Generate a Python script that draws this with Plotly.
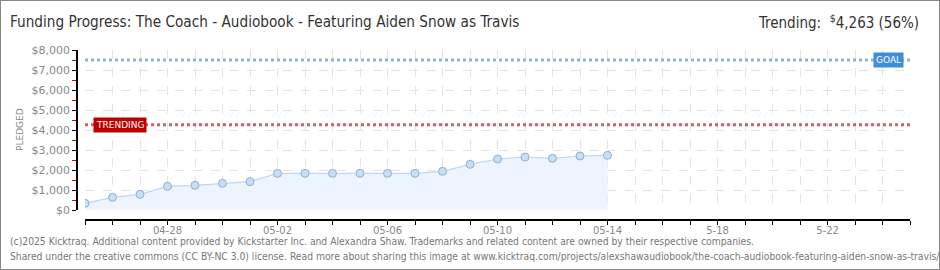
import plotly.graph_objects as go

dates = ["2025-04-25","2025-04-26","2025-04-27","2025-04-28","2025-04-29","2025-04-30",
         "2025-05-01","2025-05-02","2025-05-03","2025-05-04","2025-05-05","2025-05-06",
         "2025-05-07","2025-05-08","2025-05-09","2025-05-10","2025-05-11","2025-05-12",
         "2025-05-13","2025-05-14"]
pledged = [333, 633, 783, 1183, 1233, 1333, 1417, 1833, 1833, 1833, 1833, 1833,
           1833, 1933, 2283, 2550, 2650, 2583, 2700, 2733]
goal = 7500
trending = 4263
tick_vals = ["2025-04-28","2025-05-02","2025-05-06","2025-05-10","2025-05-14","2025-05-18","2025-05-22"]
tick_text = ["04-28","05-02","05-06","05-10","05-14","5-18","5-22"]
y_ticks = [0,1000,2000,3000,4000,5000,6000,7000,8000]
y_text = ["$0","$1,000","$2,000","$3,000","$4,000","$5,000","$6,000","$7,000","$8,000"]
x_range = ["2025-04-25","2025-05-25"]

W, H = 940, 270
FONT = "DejaVu Sans, sans-serif"
NARROW = "Liberation Sans Narrow, DejaVu Sans Condensed, sans-serif"

fig = go.Figure()
fig.add_trace(go.Scatter(
    x=dates, y=pledged, mode="lines+markers",
    line=dict(color="#bcd8f3", width=1.2),
    fill="tozeroy", fillcolor="#edf4fd",
    marker=dict(size=8, color="#c6def7", line=dict(color="#8fb0d2", width=1)),
    hoverinfo="skip", showlegend=False))
fig.add_trace(go.Scatter(
    x=x_range, y=[goal, goal], mode="lines",
    line=dict(color="#8ab4e0", width=3, dash="dot"), showlegend=False, hoverinfo="skip"))
fig.add_trace(go.Scatter(
    x=x_range, y=[trending, trending], mode="lines",
    line=dict(color="#d06060", width=3, dash="dot"), showlegend=False, hoverinfo="skip"))

fig.update_layout(
    width=W, height=H, margin=dict(l=0, r=0, t=0, b=0, autoexpand=False),
    paper_bgcolor="white", plot_bgcolor="white",
    font=dict(family=FONT, color="#888"),
    xaxis=dict(
        type="date", range=x_range, domain=[85/W, 910/W], automargin=False,
        anchor="free", position=(H-220)/H,
        tickvals=tick_vals, ticktext=tick_text,
        tickfont=dict(size=10, color="#888", family=FONT),
        ticks="outside", ticklen=4, tickcolor="black", ticklabelstandoff=-3,
        showline=True, linecolor="black", linewidth=1.5,
        showgrid=True, gridcolor="#e4e4e4", griddash="dash", gridwidth=1,
        zeroline=False,
        minor=dict(dtick=86400000, tick0="2025-04-25", ticks="outside", ticklen=4,
                   tickcolor="black", showgrid=True, gridcolor="#e4e4e4", griddash="dash"),
    ),
    yaxis=dict(
        range=[0, 8000], domain=[(H-210)/H, (H-50)/H], automargin=False,
        anchor="free", position=77/W,
        tickvals=y_ticks, ticktext=y_text,
        tickfont=dict(size=11, color="#888", family=FONT),
        ticks="outside", ticklen=4, tickcolor="black",
        showline=True, linecolor="black", linewidth=1.5,
        showgrid=True, gridcolor="#e4e4e4", griddash="dash", gridwidth=1,
        zeroline=False,
        minor=dict(dtick=500, tick0=500, ticks="outside", ticklen=4, tickcolor="#d00000",
                   showgrid=False),
    ),
)

anns = [
    dict(text="Funding Progress: The Coach - Audiobook - Featuring Aiden Snow as Travis",
         x=8/W, y=1-22/H, xanchor="left", yanchor="middle", xref="paper", yref="paper",
         showarrow=False, font=dict(size=15.2, color="#333", family=NARROW)),
    dict(text="Trending:  <sup>$</sup>4,263 (56%)",
         x=921/W, y=1-22/H, xanchor="right", yanchor="middle", xref="paper", yref="paper",
         showarrow=False, font=dict(size=15, color="#333", family=NARROW)),
    dict(text="PLEDGED", textangle=-90, x=20/W, y=1-130/H, xref="paper", yref="paper",
         xanchor="center", yanchor="middle", showarrow=False,
         font=dict(size=9, color="#888", family=FONT)),
    dict(text="GOAL", x=888/W, y=goal, xref="paper", yref="y", xanchor="center", yanchor="middle",
         showarrow=False, bgcolor="#3d8ddb", borderpad=2,
         font=dict(size=9, color="white", family=FONT)),
    dict(text="TRENDING", x=120/W, y=trending, xref="paper", yref="y", xanchor="center", yanchor="middle",
         showarrow=False, bgcolor="#c00000", borderpad=2,
         font=dict(size=9, color="white", family=FONT)),
    dict(text="(c)2025 Kicktraq. Additional content provided by Kickstarter Inc. and Alexandra Shaw. Trademarks and related content are owned by their respective companies.",
         x=8/W, y=1-241/H, xanchor="left", yanchor="middle", xref="paper", yref="paper",
         showarrow=False, font=dict(size=10.25, color="#777", family=NARROW)),
    dict(text="Shared under the creative commons (CC BY-NC 3.0) license. Read more about sharing this image at www.kicktraq.com/projects/alexshawaudiobook/the-coach-audiobook-featuring-aiden-snow-as-travis/",
         x=8/W, y=1-256/H, xanchor="left", yanchor="middle", xref="paper", yref="paper",
         showarrow=False, font=dict(size=10.25, color="#777", family=NARROW)),
]
fig.update_layout(annotations=anns)
fig.add_shape(type="rect", xref="paper", yref="paper", x0=0, x1=1, y0=0, y1=1,
              line=dict(color="#888", width=2))

fig.write_html("out.html")
